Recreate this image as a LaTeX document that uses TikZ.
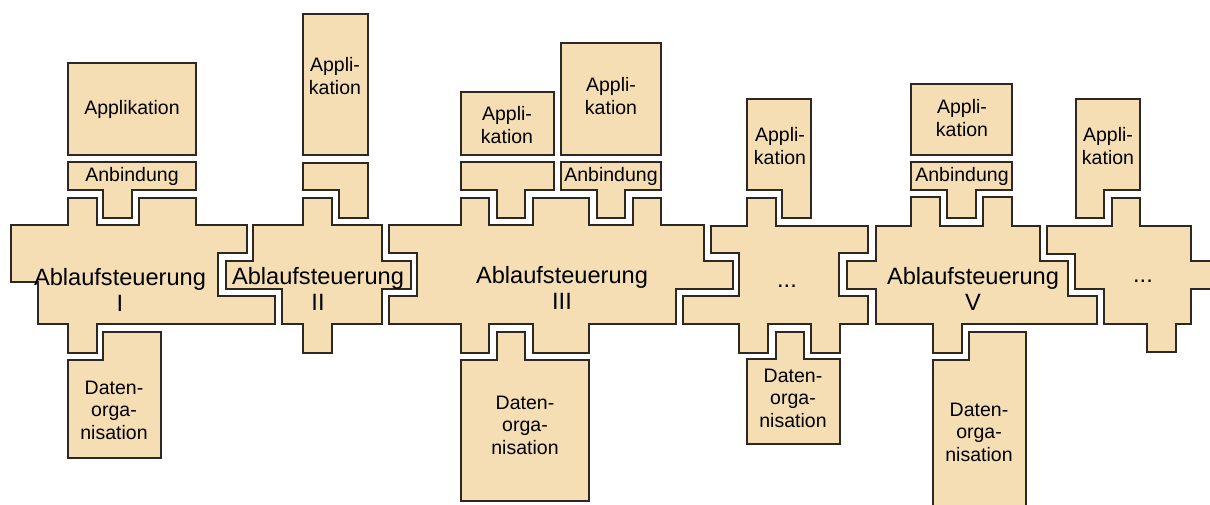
\documentclass[tikz,border=0pt]{standalone}
\usepackage{fontspec}
\setmainfont{Liberation Sans}
\definecolor{wheatfill}{RGB}{245,222,179}
\definecolor{edge}{RGB}{45,40,35}
\tikzset{
  part/.style={fill=wheatfill, draw=edge, line width=1.25pt, line join=miter},
  smalltxt/.style={font=\fontsize{19.5}{22.5}\selectfont, align=center, inner sep=0pt},
  bigtxt/.style={font=\fontsize{23.6}{26}\selectfont, align=center, inner sep=0pt}
}
\begin{document}
\begin{tikzpicture}[x=1pt,y=-1pt]
\useasboundingbox (0,0) rectangle (1210,504);
\clip (0,0) rectangle (1210,504);

% ---------------- Block I ----------------
\draw[part] (68,63) rectangle (196,155);
\draw[part] (68,162) -- (196,162) -- (196,190) -- (132,190) -- (132,218) -- (103,218) -- (103,190) -- (68,190) -- cycle;
\draw[part] (11,225) -- (68,225) -- (68,198) -- (97,198) -- (97,225) -- (139,225) -- (139,198) -- (196,198) -- (196,225)
  -- (247,225) -- (247,253) -- (218,253) -- (218,296) -- (275,296) -- (275,324) -- (97,324) -- (97,353) -- (68,353)
  -- (68,324) -- (38,324) -- (38,282) -- (11,282) -- cycle;
\draw[part] (68,360) -- (103,360) -- (103,332) -- (161,332) -- (161,458) -- (68,458) -- cycle;
\node[smalltxt] (appI) at (132,109) {Applikation};
\node[smalltxt] (anbI) at (132,176) {Anbindung};
\node[bigtxt] (ablI) at (120,290) {Ablaufsteuerung\\I};
\node[smalltxt] (datI) at (114,410) {Daten-\\orga-\\nisation};

% ---------------- Block II ----------------
\draw[part] (303,14) rectangle (368,155);
\draw[part] (303,163) -- (368,163) -- (368,218) -- (339,218) -- (339,190) -- (303,190) -- cycle;
\draw[part] (253,225) -- (303,225) -- (303,198) -- (332,198) -- (332,225) -- (382,225) -- (382,261) -- (411,261)
  -- (411,289) -- (382,289) -- (382,324) -- (332,324) -- (332,353) -- (303,353) -- (303,324) -- (282,324)
  -- (282,289) -- (226,289) -- (226,261) -- (253,261) -- cycle;
\node[smalltxt] (appII) at (335,76) {Appli-\\kation};
\node[bigtxt] (ablII) at (318,289) {Ablaufsteuerung\\II};

% ---------------- Block III ----------------
\draw[part] (461,92) rectangle (554,155);
\draw[part] (561,43) rectangle (661,155);
\draw[part] (461,162) -- (554,162) -- (554,190) -- (525,190) -- (525,218) -- (497,218) -- (497,190) -- (461,190) -- cycle;
\draw[part] (561,162) -- (661,162) -- (661,190) -- (625,190) -- (625,218) -- (597,218) -- (597,190) -- (561,190) -- cycle;
\draw[part] (389,225) -- (461,225) -- (461,198) -- (489,198) -- (489,225) -- (533,225) -- (533,198) -- (589,198)
  -- (589,225) -- (633,225) -- (633,198) -- (661,198) -- (661,225) -- (704,225) -- (704,261) -- (733,261)
  -- (733,289) -- (676,289) -- (676,324) -- (589,324) -- (589,353) -- (533,353) -- (533,324) -- (489,324)
  -- (489,353) -- (461,353) -- (461,324) -- (389,324) -- (389,296) -- (417,296) -- (417,253) -- (389,253) -- cycle;
\draw[part] (461,360) -- (497,360) -- (497,332) -- (525,332) -- (525,360) -- (589,360) -- (589,501) -- (461,501) -- cycle;
\node[smalltxt] (appIIIa) at (507,125) {Appli-\\kation};
\node[smalltxt] (appIIIb) at (611,96) {Appli-\\kation};
\node[smalltxt] (anbIII) at (611,176) {Anbindung};
\node[bigtxt] (ablIII) at (562,288) {Ablaufsteuerung\\III};
\node[smalltxt] (datIII) at (525,425) {Daten-\\orga-\\nisation};

% ---------------- Block IV ----------------
\draw[part] (747,99) -- (811,99) -- (811,218) -- (782,218) -- (782,190) -- (747,190) -- cycle;
\draw[part] (711,226) -- (747,226) -- (747,198) -- (776,198) -- (776,226) -- (868,226) -- (868,253) -- (839,253)
  -- (839,296) -- (868,296) -- (868,324) -- (840,324) -- (840,353) -- (811,353) -- (811,324) -- (768,324)
  -- (768,353) -- (739,353) -- (739,324) -- (683,324) -- (683,296) -- (739,296) -- (739,253) -- (711,253) -- cycle;
\draw[part] (747,359) -- (776,359) -- (776,332) -- (804,332) -- (804,359) -- (840,359) -- (840,444) -- (747,444) -- cycle;
\node[smalltxt] (appIV) at (780,146) {Appli-\\kation};
\node[bigtxt] (ablIV) at (787,286) {...};
\node[smalltxt] (datIV) at (793,398) {Daten-\\orga-\\nisation};

% ---------------- Block V ----------------
\draw[part] (911,84) rectangle (1012,155);
\draw[part] (911,162) -- (1012,162) -- (1012,190) -- (976,190) -- (976,218) -- (947,218) -- (947,190) -- (911,190) -- cycle;
\draw[part] (876,226) -- (911,226) -- (911,197) -- (940,197) -- (940,226) -- (983,226) -- (983,197) -- (1012,197)
  -- (1012,226) -- (1040,226) -- (1040,261) -- (1068,261) -- (1068,296) -- (1097,296) -- (1097,324) -- (962,324)
  -- (962,353) -- (933,353) -- (933,324) -- (876,324) -- (876,289) -- (847,289) -- (847,261) -- (876,261) -- cycle;
\draw[part] (933,360) -- (969,360) -- (969,332) -- (1026,332) -- (1026,520) -- (933,520) -- cycle;
\node[smalltxt] (appV) at (962,118) {Appli-\\kation};
\node[smalltxt] (anbV) at (962,176) {Anbindung};
\node[bigtxt] (ablV) at (973,289) {Ablaufsteuerung\\V};
\node[smalltxt] (datV) at (979,432) {Daten-\\orga-\\nisation};

% ---------------- Block VI ----------------
\draw[part] (1076,99) -- (1140,99) -- (1140,190) -- (1104,190) -- (1104,218) -- (1076,218) -- cycle;
\draw[part] (1047,226) -- (1112,226) -- (1112,198) -- (1140,198) -- (1140,226) -- (1191,226) -- (1191,261)
  -- (1220,261) -- (1220,289) -- (1191,289) -- (1191,324) -- (1176,324) -- (1176,352) -- (1147,352)
  -- (1147,324) -- (1104,324) -- (1104,289) -- (1075,289) -- (1075,254) -- (1047,254) -- cycle;
\node[smalltxt] (appVI) at (1108,146) {Appli-\\kation};
\node[bigtxt] (ablVI) at (1143,281) {...};
\end{tikzpicture}
\end{document}
